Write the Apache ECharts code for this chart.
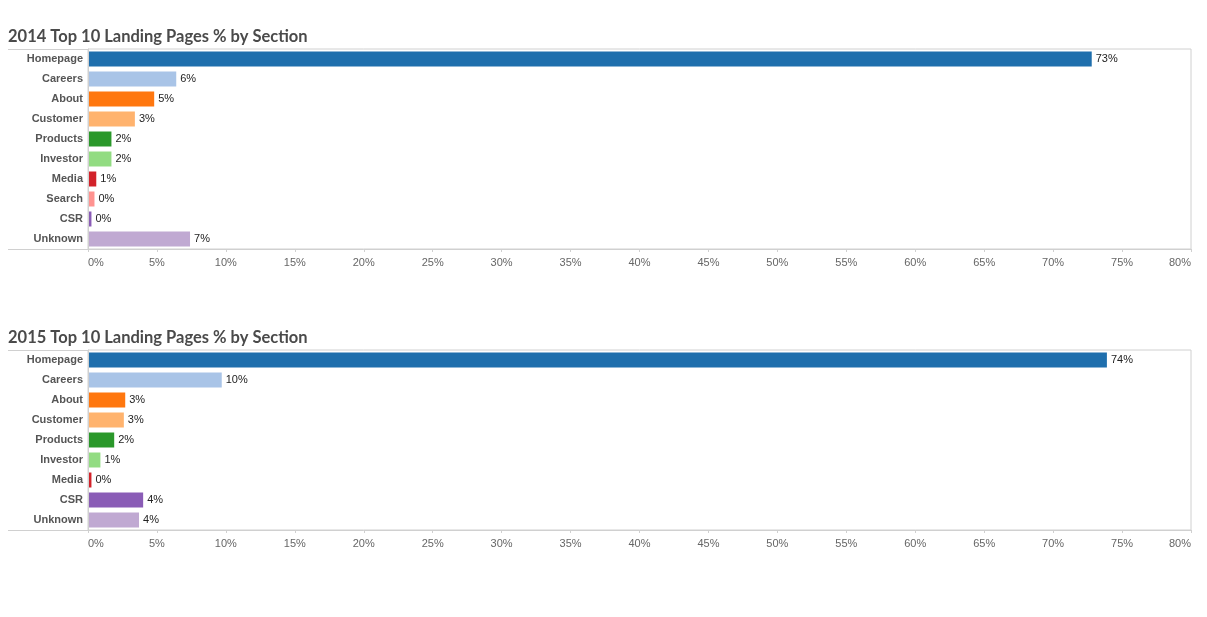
<!DOCTYPE html>
<html>
<head>
<meta charset="utf-8">
<script src="https://cdn.jsdelivr.net/npm/echarts@6/dist/echarts.min.js"></script>
<style>
  html, body { margin: 0; padding: 0; background: #fff; }
  #chart { width: 1207px; height: 617px; }
</style>
</head>
<body>
<div id="chart"></div>
<script>
// sections & share of landing pages (%)
const sections2014 = ["Homepage", "Careers", "About", "Customer", "Products", "Investor", "Media", "Search", "CSR", "Unknown"];
const values2014 = [72.8, 6.4, 4.8, 3.4, 1.7, 1.7, 0.6, 0.47, 0.25, 7.4];
const sections2015 = ["Homepage", "Careers", "About", "Customer", "Products", "Investor", "Media", "CSR", "Unknown"];
const values2015 = [73.9, 9.7, 2.7, 2.6, 1.9, 0.9, 0.25, 4.0, 3.7];
const ticks = [0, 5, 10, 15, 20, 25, 30, 35, 40, 45, 50, 55, 60, 65, 70, 75, 80];

// tableau 20 colours by section
const sectionColors = {
  Homepage: "#1f6fad",
  Careers: "#a9c4e7",
  About: "#ff770f",
  Customer: "#ffb36e",
  Products: "#2a982a",
  Investor: "#92dc82",
  Media: "#d2222a",
  Search: "#ff9390",
  CSR: "#8a5cb6",
  Unknown: "#c0a9d2"
};

const chart = echarts.init(document.getElementById("chart"));

const gridLeft = 88;
const gridRight = 1207 - 1191;
const grids = [
  { top: 49, height: 200 },
  { top: 350, height: 180 }
];

const makeSeries = (idx, cats, vals) => ({
  type: "bar",
  xAxisIndex: idx,
  yAxisIndex: idx,
  barWidth: 15,
  data: vals.map((v, i) => ({ value: v, itemStyle: { color: sectionColors[cats[i]] } })),
  label: {
    show: true,
    position: "right",
    distance: 4,
    color: "#222",
    fontFamily: "Liberation Sans, Arial, sans-serif",
    fontSize: 11,
    formatter: (p) => Math.round(p.value) + "%"
  },
  silent: true
});

const xAxisOf = (idx) => ({
  type: "value",
  gridIndex: idx,
  min: ticks[0],
  max: ticks[ticks.length - 1],
  interval: 5,
  axisLine: { show: true, lineStyle: { color: "#d0d0d0" } },
  axisTick: { show: true, length: 3, lineStyle: { color: "#d0d0d0" } },
  splitLine: { show: false },
  axisLabel: {
    color: "#666",
    fontFamily: "Liberation Sans, Arial, sans-serif",
    fontSize: 11,
    margin: 8,
    alignMinLabel: "left",
    alignMaxLabel: "right",
    formatter: "{value}%"
  }
});

const yAxisOf = (idx, cats) => ({
  type: "category",
  gridIndex: idx,
  data: cats,
  inverse: true,
  z: 3,
  axisLine: { show: true, lineStyle: { color: "#d0d0d0" } },
  axisTick: { show: false },
  axisLabel: {
    color: "#555",
    fontWeight: "bold",
    fontFamily: "Liberation Sans, Arial, sans-serif",
    fontSize: 11,
    margin: 5
  }
});

// lines that run under the label column
const sideLine = (y) => ({
  type: "line",
  shape: { x1: 8, y1: y + 0.5, x2: gridLeft, y2: y + 0.5 },
  style: { stroke: "#d0d0d0", lineWidth: 1 },
  silent: true
});

const titleStyle = { fontFamily: "Lato, sans-serif", fontWeight: "bold", fontSize: 16.5, color: "#4a4a4a" };

chart.setOption({
  animation: false,
  title: [
    { text: "2014 Top 10 Landing Pages % by Section", left: 8, top: 28, padding: 0, textStyle: titleStyle },
    { text: "2015 Top 10 Landing Pages % by Section", left: 8, top: 329, padding: 0, textStyle: titleStyle }
  ],
  grid: grids.map((g) => ({
    left: gridLeft, right: gridRight, top: g.top, height: g.height,
    show: true, borderColor: "#d0d0d0", borderWidth: 1, backgroundColor: "transparent"
  })),
  xAxis: [xAxisOf(0), xAxisOf(1)],
  yAxis: [yAxisOf(0, sections2014), yAxisOf(1, sections2015)],
  series: [makeSeries(0, sections2014, values2014), makeSeries(1, sections2015, values2015)],
  graphic: [
    sideLine(49), sideLine(249),
    sideLine(350), sideLine(530)
  ]
});
</script>
</body>
</html>
